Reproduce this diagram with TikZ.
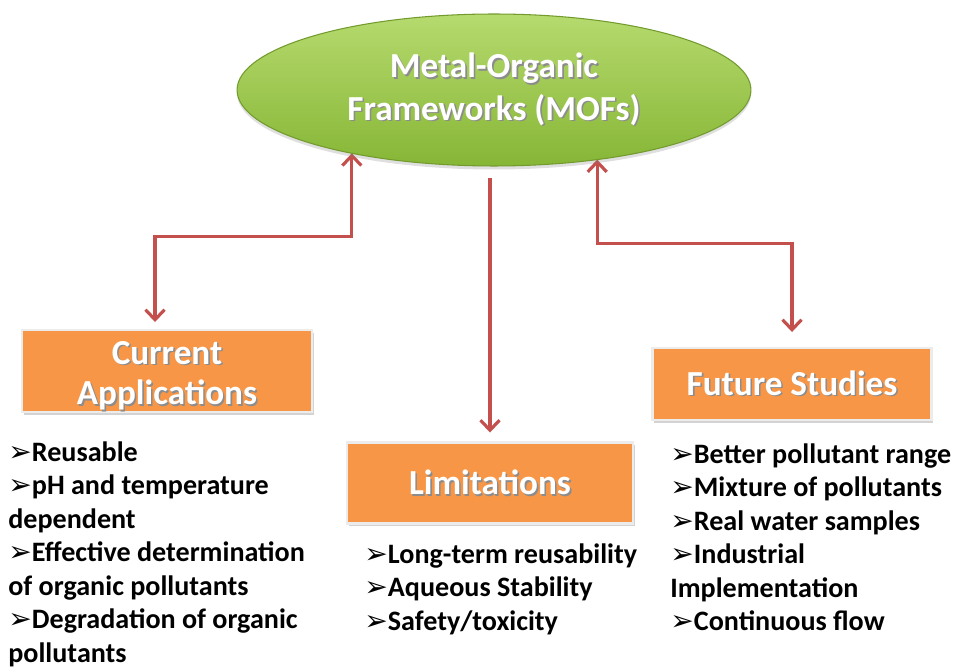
\documentclass[tikz,border=0pt]{standalone}
\usepackage{fontspec}
\setmainfont{Carlito}
\newfontfamily\symfont{DejaVu Sans}
\usepackage{tikz}
\usetikzlibrary{arrows.meta,shadows,shapes.geometric}
\pgfdeclarelayer{bg}
\pgfsetlayers{bg,main}
\definecolor{mofhi}{HTML}{B6DA6E}
\definecolor{moflo}{HTML}{86B636}
\definecolor{boxorange}{HTML}{F79646}
\definecolor{linkred}{HTML}{C4504D}
\newcommand{\itm}{{\symfont\scalebox{1.0}{➢}}}
\newcommand{\shtxt}[1]{\leavevmode\rlap{\kern0.9pt\raisebox{-0.9pt}{\color{black!45}#1}}#1}

\begin{document}
\begin{tikzpicture}[x=0.02cm,y=-0.02cm,
    mofnode/.style={ellipse, outer sep=0pt, minimum width=10.28cm, minimum height=3.04cm,
      top color=mofhi, bottom color=moflo, draw=moflo!85!black, line width=0.6pt,
      drop shadow={opacity=0.25, shadow xshift=0pt, shadow yshift=-2pt},
      text=white, align=center, font=\fontsize{20}{24.4}\selectfont\bfseries},
    topic/.style={rectangle, outer sep=0pt, fill=boxorange, draw=gray!15, line width=1.2pt,
      drop shadow={opacity=0.35, shadow xshift=1pt, shadow yshift=-1.5pt},
      text=white, align=center, font=\fontsize{20}{23}\selectfont\bfseries},
    points/.style={anchor=north west, inner sep=0pt, align=left,
      font=\fontsize{16}{19.1}\selectfont\bfseries},
    link/.style={draw=linkred, line width=1.8pt,
      arrows={Straight Barb[length=2mm,width=3.8mm]-Straight Barb[length=2mm,width=3.8mm]}}]

    \useasboundingbox (0,0) rectangle (955,668);

    \node [mofnode] (mof) at (494,90) {\shtxt{Metal-Organic}\\\shtxt{Frameworks (MOFs)}};

    \node [topic, inner ysep=0pt, minimum width=5.8cm, minimum height=1.64cm] (cur) at (167,371) {\rule{0pt}{19.5pt}\shtxt{Current}\\\shtxt{Applications}};
    \node [topic, minimum width=5.72cm, minimum height=1.62cm] (lim) at (490,483) {\shtxt{Limitations}};
    \node [topic, minimum width=5.58cm, minimum height=1.44cm] (fut) at (792,384) {\shtxt{Future Studies}};

    \node [points] (curlist) at (8,441) {\itm Reusable\\\itm pH and temperature\\dependent\\\itm Effective determination\\of organic pollutants\\\itm Degradation of organic\\pollutants};
    \node [points] (limlist) at (364,543) {\itm Long-term reusability\\\itm Aqueous Stability\\\itm Safety/toxicity};
    \node [points] (futlist) at (670,443) {\itm Better pollutant range\\\itm Mixture of pollutants\\\itm Real water samples\\\itm Industrial\\Implementation\\\itm Continuous flow};

    \begin{pgfonlayer}{bg}    % arrows behind the boxes
        \draw [link, shorten >=1.6mm] (mof.204) -- ++(0,83) -| ([xshift=-2.4mm]cur.north);
        \draw [link, -{Straight Barb[length=2mm,width=3.8mm]}, shorten <=2.4mm, shorten >=2mm] (lim.north |- mof.south) -- (lim.north);
        \draw [link, shorten >=3.2mm] (mof.326) -- ++(0,84) -| (fut.north);
    \end{pgfonlayer}
\end{tikzpicture}
\end{document}
